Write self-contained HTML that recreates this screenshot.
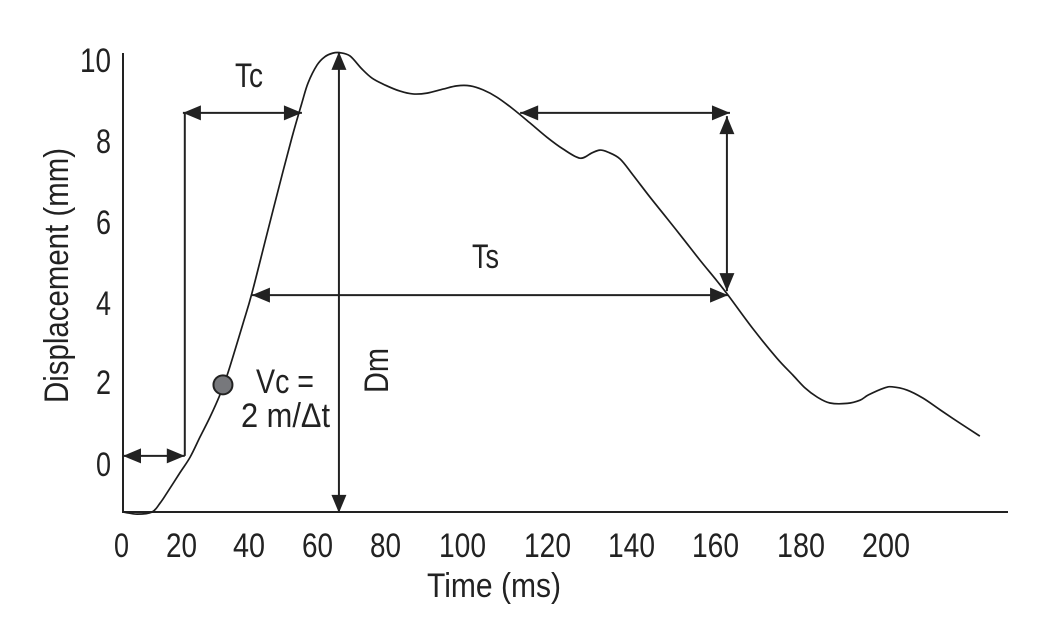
<!DOCTYPE html>
<html lang="en">
<head>
<meta charset="utf-8">
<title>Displacement vs time chart</title>
<style>
html,body{margin:0;padding:0;background:#fff;width:1041px;height:625px;overflow:hidden}
svg{display:block}
text{font-family:"Liberation Sans",Arial,sans-serif;fill:#222;font-size:34.5px}
</style>
</head>
<body>
<svg id="chart" width="1041" height="625" viewBox="0 0 1041 625" xmlns="http://www.w3.org/2000/svg">
  <g id="axes">
    <line x1="123" y1="53" x2="123" y2="513" stroke="#222" stroke-width="2"/>
    <line x1="122" y1="512" x2="1008" y2="512" stroke="#222" stroke-width="2"/>
  </g>
  <g>
    <text x="80" y="72" textLength="31" lengthAdjust="spacingAndGlyphs">10</text>
    <text x="96" y="153" textLength="15" lengthAdjust="spacingAndGlyphs">8</text>
    <text x="96" y="234" textLength="15" lengthAdjust="spacingAndGlyphs">6</text>
    <text x="96" y="315" textLength="15" lengthAdjust="spacingAndGlyphs">4</text>
    <text x="96" y="394" textLength="15" lengthAdjust="spacingAndGlyphs">2</text>
    <text x="96" y="476" textLength="15" lengthAdjust="spacingAndGlyphs">0</text>
  </g>
  <g>
    <text x="114" y="557" textLength="15" lengthAdjust="spacingAndGlyphs">0</text>
    <text x="166" y="557" textLength="31" lengthAdjust="spacingAndGlyphs">20</text>
    <text x="233" y="557" textLength="32" lengthAdjust="spacingAndGlyphs">40</text>
    <text x="302" y="557" textLength="31" lengthAdjust="spacingAndGlyphs">60</text>
    <text x="370" y="557" textLength="31" lengthAdjust="spacingAndGlyphs">80</text>
    <text x="439" y="557" textLength="47" lengthAdjust="spacingAndGlyphs">100</text>
    <text x="524" y="557" textLength="47" lengthAdjust="spacingAndGlyphs">120</text>
    <text x="608" y="557" textLength="47" lengthAdjust="spacingAndGlyphs">140</text>
    <text x="692" y="557" textLength="47" lengthAdjust="spacingAndGlyphs">160</text>
    <text x="777" y="557" textLength="48" lengthAdjust="spacingAndGlyphs">180</text>
    <text x="862" y="557" textLength="48" lengthAdjust="spacingAndGlyphs">200</text>
  </g>
  <text x="427" y="597" textLength="134" lengthAdjust="spacingAndGlyphs">Time (ms)</text>
  <text transform="translate(68,403) rotate(-90)" textLength="255" lengthAdjust="spacingAndGlyphs">Displacement (mm)</text>
  <text x="235" y="87" textLength="28" lengthAdjust="spacingAndGlyphs">Tc</text>
  <text x="472" y="268" textLength="27" lengthAdjust="spacingAndGlyphs">Ts</text>
  <text x="256" y="393" textLength="58" lengthAdjust="spacingAndGlyphs">Vc =</text>
  <text x="241" y="427" textLength="89" lengthAdjust="spacingAndGlyphs">2 m/Δt</text>
  <text transform="translate(388,393) rotate(-90)" textLength="45" lengthAdjust="spacingAndGlyphs">Dm</text>
  <g id="annotations"></g>
  <g id="series"></g>
</svg>
<script>
const timeMs = [0,3.7,7.6,9.7,11.5,14.9,17.6,20.2,22.8,25.4,27.3,28.8,31.5,33.8,37.7,41.9,44.6,46.9,48.5,50.9,52.9,55.0,56.9,59.5,62.6,65.3,68.7,72.6,76.0,79.7,83.9,87.5,91.0,94.4,98.0,102.2,106.7,111.1,115.3,119.8,122.9,125.0,127.1,130.3,133.7,138.1,142.6,146.8,151.2,155.7,158.6,165.1,171.4,175.6,178.8,181.9,185.3,189.8,193.2,195.4,199.5,201.6,205.5,209.7,214.2,219.4,224.6];
const displacementMm = [-1.19,-1.24,-1.19,-0.97,-0.72,-0.22,0.17,0.67,1.16,1.71,2.20,2.65,3.49,4.23,5.68,7.23,8.19,8.94,9.43,9.88,10.08,10.17,10.18,10.10,9.78,9.55,9.38,9.23,9.16,9.18,9.28,9.36,9.36,9.26,9.08,8.79,8.44,8.09,7.80,7.57,7.70,7.77,7.72,7.55,7.15,6.61,6.08,5.58,5.05,4.53,4.18,3.35,2.62,2.20,1.88,1.66,1.51,1.50,1.58,1.71,1.88,1.91,1.83,1.63,1.34,1.01,0.69];
const markerPoint = [26.2, 1.96];
const onsetSpan = [0, 16.2, 0.20];
const tcSpan = [15.7, 46.9, 8.69];
const tsSpan = [33.8, 158.6, 4.18];
const decaySpan = [104.1, 159.1, 8.69];
const dmSpan = [56.6, 10.2, -1.21];
const ampSpan = [158.3, 8.61, 4.28];
const stepLine = [16.2, 8.69, 0.20];

function xScale(t){ return 123 + t * 3.815; }
function yScale(v){ return 464 - v * 40.4; }

const NS = 'http://www.w3.org/2000/svg';
const annotations = document.getElementById('annotations');
const series = document.getElementById('series');

function make(tag, attrs, parent){
  const el = document.createElementNS(NS, tag);
  for (const k in attrs) el.setAttribute(k, attrs[k]);
  parent.appendChild(el);
  return el;
}

function head(tipX, tipY, dx, dy, label){
  const len = 18, half = 7.5;
  const bx = tipX - dx * len, by = tipY - dy * len;
  const pts = [tipX + ',' + tipY,
    (bx - dy * half) + ',' + (by + dx * half),
    (bx + dy * half) + ',' + (by - dx * half)].join(' ');
  const p = make('polygon', {points: pts, fill: '#222'}, annotations);
  
  
}

function arrow(x1, y1, x2, y2, label){
  const l = Math.hypot(x2 - x1, y2 - y1) || 1;
  const dx = (x2 - x1) / l, dy = (y2 - y1) / l;
  const ln = make('line', {x1: x1, y1: y1, x2: x2, y2: y2, stroke: '#222', 'stroke-width': 2}, annotations);
  
  
  head(x1, y1, -dx, -dy, label + '-head-start');
  head(x2, y2, dx, dy, label + '-head-end');
}

function hArrow(span, label){
  arrow(xScale(span[0]), yScale(span[2]), xScale(span[1]), yScale(span[2]), label);
}
function vArrow(span, label){
  arrow(xScale(span[0]), yScale(span[1]), xScale(span[0]), yScale(span[2]), label);
}

hArrow(onsetSpan, 'onset-arrow');
hArrow(tcSpan, 'tc-arrow');
hArrow(tsSpan, 'ts-arrow');
hArrow(decaySpan, 'decay-arrow');
vArrow(dmSpan, 'dm-arrow');
vArrow(ampSpan, 'amplitude-arrow');

const step = make('line', {
  x1: xScale(stepLine[0]), y1: yScale(stepLine[1]),
  x2: xScale(stepLine[0]), y2: yScale(stepLine[2]),
  stroke: '#222', 'stroke-width': 2
}, annotations);



function curvePath(){
  const pts = timeMs.map(function(t, i){ return [xScale(t), yScale(displacementMm[i])]; });
  let d = 'M' + pts[0][0].toFixed(2) + ' ' + pts[0][1].toFixed(2);
  for (let i = 0; i < pts.length - 1; i++){
    const p0 = pts[Math.max(i - 1, 0)], p1 = pts[i], p2 = pts[i + 1], p3 = pts[Math.min(i + 2, pts.length - 1)];
    const c1x = p1[0] + (p2[0] - p0[0]) / 6, c1y = p1[1] + (p2[1] - p0[1]) / 6;
    const c2x = p2[0] - (p3[0] - p1[0]) / 6, c2y = p2[1] - (p3[1] - p1[1]) / 6;
    d += 'C' + c1x.toFixed(2) + ' ' + c1y.toFixed(2) + ' ' + c2x.toFixed(2) + ' ' + c2y.toFixed(2) + ' ' + p2[0].toFixed(2) + ' ' + p2[1].toFixed(2);
  }
  return d;
}

const curve = make('path', {d: curvePath(), fill: 'none', stroke: '#1c1c1c', 'stroke-width': 1.7, 'stroke-linejoin': 'round'}, series);



const marker = make('circle', {cx: xScale(markerPoint[0]), cy: yScale(markerPoint[1]), r: 9.5, fill: '#77787c', stroke: '#222', 'stroke-width': 2}, series);


</script>
</body>
</html>
